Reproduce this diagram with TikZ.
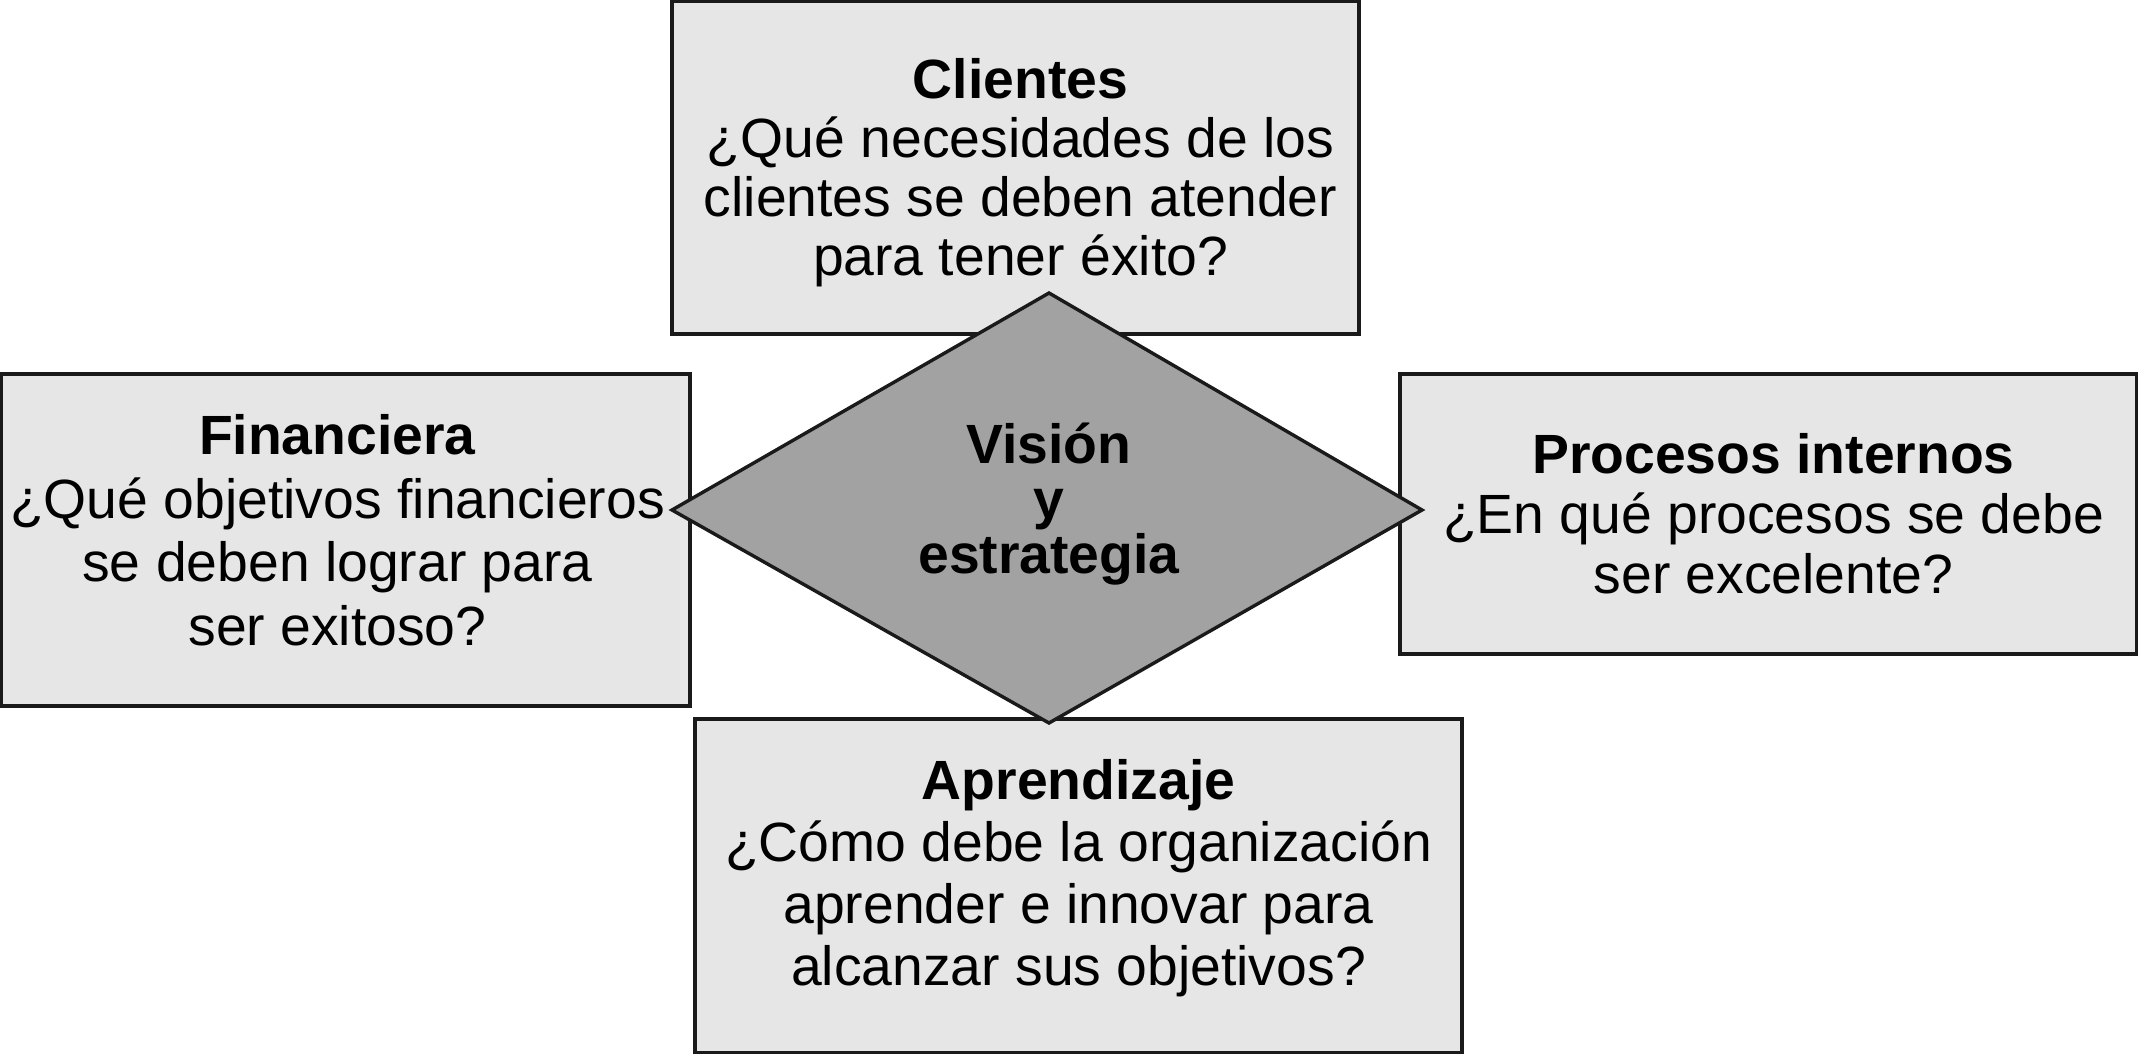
\documentclass[tikz,border=0pt]{standalone}
\usepackage{fontspec}
\setmainfont{Liberation Sans}
\definecolor{boxfill}{HTML}{E6E6E6}
\definecolor{diafill}{HTML}{A2A2A2}
\definecolor{edge}{HTML}{1A1A1A}
\tikzset{
  box/.style={draw=edge, fill=boxfill, line width=3.4pt, inner sep=0pt},
  boxtext/.style={align=center, inner sep=0pt},
  diatext/.style={align=center, inner sep=0pt, font=\fontsize{55.3}{55}\selectfont\bfseries},
  diashape/.style={draw=edge, fill=diafill, line width=3.4pt, line join=miter}
}
\begin{document}
\begin{tikzpicture}[x=1pt,y=-1pt]
\useasboundingbox (0,0) rectangle (2138,1054);
% boxes
\node[box, minimum width=687pt, minimum height=333pt] (clientes) at (1015.5,167.5) {};
\node[box, minimum width=689pt, minimum height=332pt] (financiera) at (345.5,540) {};
\node[box, minimum width=737pt, minimum height=280pt] (procesos) at (1768.5,514) {};
\node[box, minimum width=767pt, minimum height=334pt] (aprendizaje) at (1078.5,886) {};
% texts
\node[boxtext, font=\fontsize{55.3}{59}\selectfont] (clientesT) at (1020.5,172.5)
  {\textbf{Clientes}\\¿Qué necesidades de los\\clientes se deben atender\\para tener éxito?};
\node[boxtext, font=\fontsize{55.3}{63.5}\selectfont] (financieraT) at (337.5,530)
  {\textbf{Financiera}\\¿Qué objetivos financieros\\se deben lograr para\\ser exitoso?};
\node[boxtext, font=\fontsize{55.3}{60}\selectfont] (procesosT) at (1773.5,514)
  {\textbf{Procesos internos}\\¿En qué procesos se debe\\ser excelente?};
\node[boxtext, font=\fontsize{55.3}{62}\selectfont] (aprendizajeT) at (1078.5,878.5)
  {\textbf{Aprendizaje}\\¿Cómo debe la organización\\aprender e innovar para\\alcanzar sus objetivos?};
% diamond
\coordinate (dl) at (672,510);
\coordinate (dt) at (1049,293);
\coordinate (dr) at (1422,510);
\coordinate (db) at (1049,723);
\filldraw[diashape] (dl) -- (dt) -- (dr) -- (db) -- cycle;
\node[diatext] (vision) at (1049,504.5) {Visión\\y\\estrategia};
\end{tikzpicture}
\end{document}
